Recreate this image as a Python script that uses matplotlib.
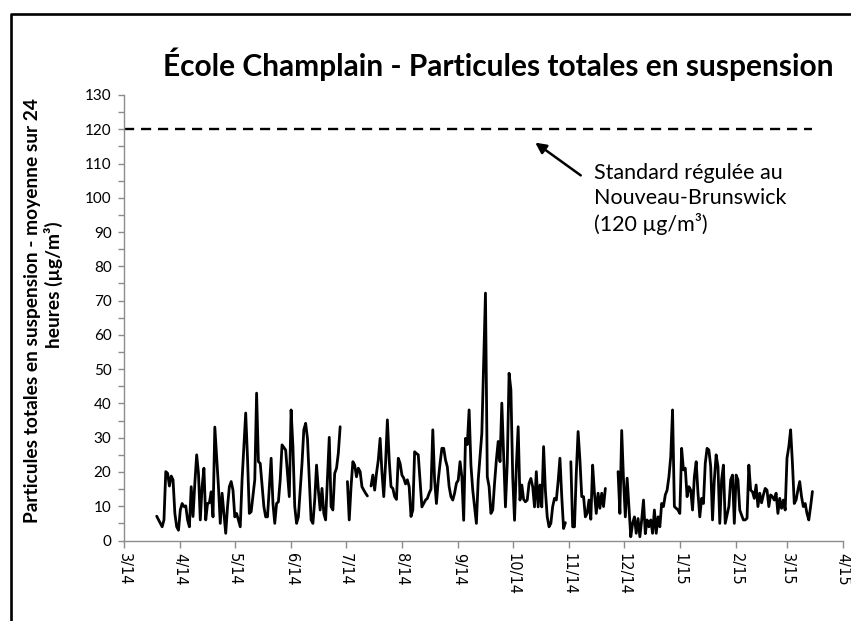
import numpy as np
import matplotlib
matplotlib.use("Agg")
import matplotlib.pyplot as plt
import matplotlib.dates as mdates
from matplotlib.ticker import FuncFormatter, MultipleLocator
from matplotlib.lines import Line2D

# ---- data: day offsets from 2014-03-01 and 24-h average TSP (µg/m3); NaN = missing
start_date = np.datetime64("2014-03-01")
day = [18, 21, 22, 23, 24, 25, 26, 27, 28, 29, 30, 31, 32, 33, 34, 35, 36, 37, 38, 39,
       40, 41, 42, 43, 44, 45, 46, 47, 48, 49, 50, 52, 53, 54, 55, 56, 57, 58, 59, 60,
       61, 62, 63, 64, 65, 67, 68, 69, 70, 72, 73, 74, 75, 77, 78, 79, 81, 82, 83, 84,
       85, 86, 87, 89, 90, 91,
       92, 93, 94, 95, 96, 98, 99, 100, 101, 102, 103, 104, 105, 106, 107, 108, 109, 110,
       111, 112, 113, 114, 115, 116, 117, 118, 119, 120,
       123, 124, 125, 126, 127, 128, 129, 130, 131, 132, 133, 134, 135,
       136, 137, 138, 139, 140, 141, 142, 143, 144, 145, 146, 147, 148, 149, 150, 151,
       152, 153, 154, 155, 156, 157, 158, 159, 160, 161, 162, 163, 164, 165, 166, 167,
       168, 169, 170, 171, 172, 173, 174, 175, 176, 177, 178, 179, 180, 181, 182, 183,
       184, 185, 186, 187, 188, 189, 190, 191, 192, 194, 195, 197, 198, 199, 200, 201,
       202, 203, 204, 205, 206, 207, 208, 210, 211, 212, 213, 214, 215, 216, 217, 218,
       219, 220, 221, 222, 223, 224, 225, 226, 227, 228, 229, 230, 231, 232, 233, 234,
       235, 236, 237, 238, 239, 240, 241, 242, 243, 244,
       246, 247, 248, 249, 250, 251, 252, 253, 254, 255, 256, 257, 258, 259, 260, 261,
       262, 263, 264, 265, 266,
       272, 273, 274, 275, 276, 277, 278, 279, 280, 281, 282, 283, 284, 285, 286, 287,
       288, 289, 290, 291, 292, 293, 294, 295, 296, 297, 298, 299, 300, 301, 302, 303,
       304, 305, 306, 307, 308, 309, 310, 311, 312, 313, 314, 315, 316, 317, 318, 319,
       320, 321, 322, 323, 324, 325, 326, 327, 328, 329, 330, 331, 333, 334, 335, 336,
       337, 338, 339, 340, 341, 342, 343, 344, 345, 346, 347, 348, 349, 350, 351, 352,
       353, 354, 355, 356, 357, 358, 359, 360, 361, 362, 363, 364, 365, 366, 367, 368,
       369, 370, 371, 372, 373, 374, 375, 376, 377, 378, 379]
nan = np.nan
tsp = [7.1, 4.0, 6.0, 20.1, 19.6, 15.9, 18.8, 17.7, 7.9, 4.0, 3.0, 8.9, 10.8, 9.9, 10.1, 6.0, 4.0, 15.7, 7.0, 16.7,
       25.0, 19.6, 6.0, 15.7, 21.1, 6.0, 10.8, 11.0, 14.2, 6.9, 33.1, 15.7, 5.0, 13.8, 7.9, 2.1, 9.9, 15.7, 17.2, 14.7,
       6.9, 7.9, 6.0, 4.0, 17.7, 37.2, 24.0, 7.9, 8.4, 17.7, 43.0, 23.0, 22.5, 9.9, 6.9, 6.9, 24.0, 10.8, 5.0, 10.8,
       11.3, 17.7, 27.9, 26.4, 19.6, 12.8,
       38.1, 27.4, 9.9, 5.0, 6.9, 22.5, 32.3, 34.2, 29.8, 17.7, 6.0, 5.0, 11.8, 22.0, 14.7, 8.9, 15.2, 7.9,
       6.0, 17.7, 30.1, 9.9, 8.9, 19.6, 21.1, 25.5, 33.2, nan,
       17.2, 6.0, 15.7, 23.0, 22.0, 18.6, 21.1, 20.1, 15.7, 14.7, 13.8, 13.0, nan,
       15.9, 19.1, 14.7, 19.6, 23.5, 29.8, 20.0, 12.8, 22.5, 35.2, 23.5, 15.7, 15.2, 12.8, 12.0, 24.0,
       22.5, 19.1, 18.2, 16.5, 17.7, 15.7, 7.0, 8.9, 25.9, 25.4, 25.0, 17.6, 9.8, 10.8, 11.8, 12.3,
       13.8, 15.0, 32.3, 17.6, 10.8, 17.6, 22.5, 26.9, 26.9, 23.5, 21.5, 15.7, 12.8, 11.8, 13.8, 16.7,
       17.6, 23.0, 18.6, 5.9, 29.8, 28.0, 38.1, 22.0, 14.7, 5.0, 17.6, 31.3, 51.8, 72.2, 18.6, 15.7,
       7.9, 8.9, 16.7, 23.5, 28.9, 23.0, 40.1, 9.8, 22.5, 48.8, 44.0, 18.6, 5.9, 21.6, 33.2, 11.8,
       16.2, 12.0, 11.3, 11.8, 16.7, 18.1, 15.7, 9.8, 20.1, 9.8, 16.2, 9.8, 27.4, 14.5, 6.9, 4.0,
       5.0, 9.9, 12.3, 11.8, 17.2, 24.0, 12.8, 3.5, 5.2, nan,
       23.0, 4.0, 4.0, 19.6, 31.8, 23.5, 12.8, 12.8, 6.9, 7.9, 11.8, 6.2, 22.0, 13.8, 7.9, 13.8,
       9.4, 13.8, 9.9, 15.2, nan,
       20.1, 7.9, 32.1, 17.7, 6.9, 18.2, 9.9, 1.1, 5.0, 6.9, 2.1, 6.4, 1.1, 6.0, 11.8, 2.0,
       6.0, 4.0, 6.0, 2.1, 8.9, 2.1, 6.9, 4.0, 10.8, 9.9, 13.3, 14.7, 18.6, 24.5, 38.1, 9.9,
       9.4, 8.9, 7.9, 26.9, 20.6, 21.1, 12.8, 15.7, 14.7, 8.9, 18.6, 23.0, 13.8, 6.9, 12.3, 10.8,
       22.5, 26.9, 26.4, 21.6, 6.0, 17.7, 25.0, 21.6, 5.0, 17.7, 22.0, 5.0, 9.9, 17.7, 19.1, 5.0,
       19.1, 17.7, 8.9, 7.4, 6.0, 6.0, 6.5, 22.0, 14.7, 14.2, 12.3, 16.2, 9.9, 13.8, 11.0, 13.3,
       15.2, 14.7, 9.9, 13.3, 12.8, 11.8, 13.8, 7.9, 12.3, 9.4, 11.8, 8.9, 24.0, 27.4, 32.3, 22.5,
       10.8, 11.8, 14.7, 17.2, 12.8, 9.9, 10.8, 7.9, 6.0, 9.9, 14.3]

standard_value = 120
standard_dates = [np.datetime64("2014-03-01"), np.datetime64("2015-03-15")]
x_range = [np.datetime64("2014-03-01"), np.datetime64("2015-04-01")]
y_range = [0, 130]

title = "École Champlain - Particules totales en suspension"
ylabel_1 = "Particules totales en suspension - moyenne sur 24"
ylabel_2 = "heures (µg/m³)"
note = "Standard régulée au\nNouveau-Brunswick\n(120 µg/m³)"

dates = start_date + np.array(day, dtype="timedelta64[D]")

W, H = 851, 621
fig = plt.figure(figsize=(W / 100, H / 100), dpi=100)
ax = fig.add_axes([124 / W, 1 - 540.5 / H, (843.3 - 124) / W, (540.5 - 95) / H])

ax.plot(dates, tsp, color="black", lw=2.0, solid_joinstyle="round", solid_capstyle="round")
ax.plot(standard_dates, [standard_value, standard_value], color="black", lw=1.7,
        ls=(0, (4.3, 2.9)), dash_capstyle="butt")

ax.set_xlim(x_range)
ax.set_ylim(y_range)

ax.xaxis.set_major_locator(mdates.MonthLocator())
ax.xaxis.set_major_formatter(FuncFormatter(
    lambda v, p: f"{mdates.num2date(v).month}/{mdates.num2date(v).year % 100:02d}"))
ax.yaxis.set_major_locator(MultipleLocator(10))
ax.yaxis.set_minor_locator(MultipleLocator(5))

for s in ["top", "right"]:
    ax.spines[s].set_visible(False)
for s in ["left", "bottom"]:
    ax.spines[s].set_color("#8c8c8c")
    ax.spines[s].set_linewidth(1.0)

ax.tick_params(axis="x", direction="out", length=5, width=1, color="#8c8c8c",
               labelsize=10.5, pad=4, labelrotation=-90)
ax.tick_params(axis="y", which="both", direction="out", length=4, width=1, color="#8c8c8c",
               labelsize=11, pad=5)
for lab in ax.get_yticklabels():
    lab.set_fontfamily("Lato")
for lab in ax.get_xticklabels():
    lab.set_fontfamily("DejaVu Sans")
    lab.set_va("top")

fig.text(498 / W, 1 - 76 / H, title, ha="center", va="baseline",
         fontsize=21.5, fontweight="bold", family="Lato")
fig.text(33 / W, 1 - 310.5 / H, ylabel_1, rotation=90, ha="center", va="center",
         fontsize=13.8, fontweight="bold", family="Lato")
fig.text(53 / W, 1 - 285 / H, ylabel_2, rotation=90, ha="center", va="center",
         fontsize=13.8, fontweight="bold", family="Lato")

fig.text(594 / W, 1 - 199 / H, note, ha="left", va="center", fontsize=15.5,
         family="Lato", linespacing=1.32)
ax.annotate("", xy=(533, H - 141), xycoords="figure pixels",
            xytext=(583, H - 177), textcoords="figure pixels",
            arrowprops=dict(arrowstyle="-|>", color="black", lw=1.8, mutation_scale=16))

fig.add_artist(Line2D([10.5 / W, 10.5 / W, 1.0], [0, 1 - 14 / H, 1 - 14 / H],
                      transform=fig.transFigure, color="black", lw=1.9))

fig.savefig("out.png", dpi=100)
